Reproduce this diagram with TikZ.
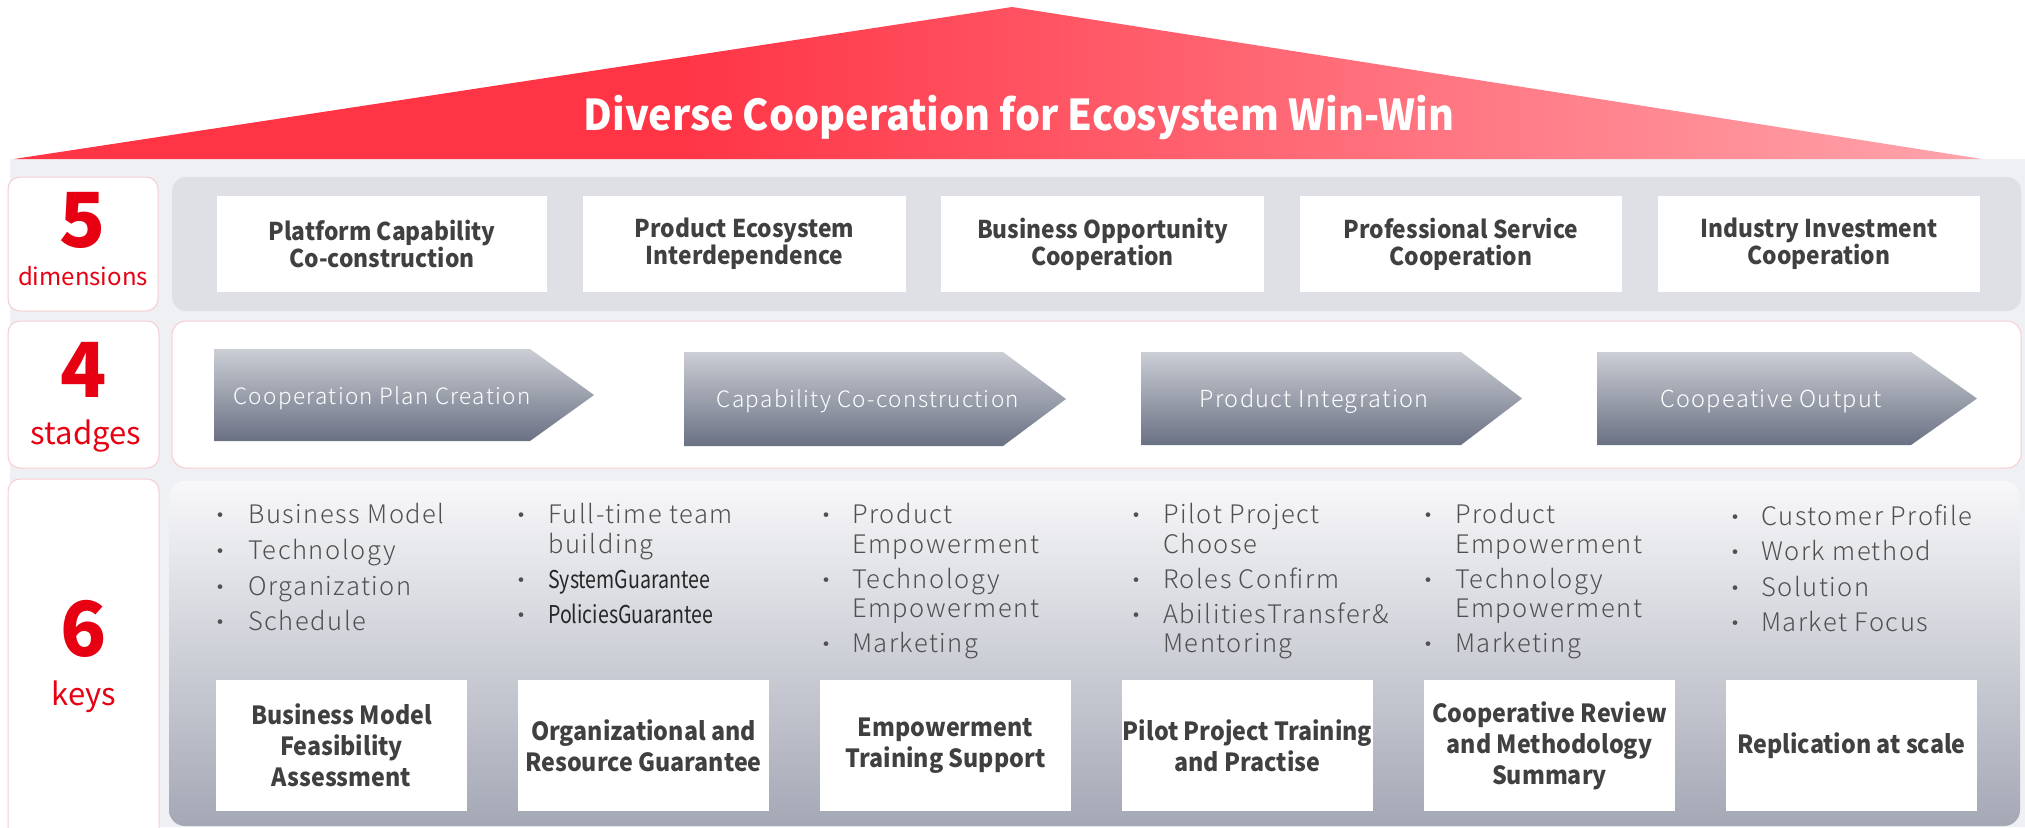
\documentclass[tikz,border=0pt]{standalone}
\usepackage{fontspec}
\newfontfamily\nsc{Noto Sans CJK SC}
\newfontfamily\nscb{Noto Sans CJK SC}[FakeStretch=0.93]
\newfontfamily\nscn{Noto Sans CJK SC}[FakeStretch=0.8]
\IfFontExistsTF{Noto Sans CJK SC Light}{%
  \newfontfamily\nscl{Noto Sans CJK SC Light}[LetterSpace=6]}{%
  \newfontfamily\nscl{Noto Sans CJK SC}[LetterSpace=6]}
\definecolor{redn}{HTML}{E60012}
\definecolor{txt}{HTML}{404040}
\definecolor{bul}{HTML}{505050}
\definecolor{bgframe}{HTML}{EEF0F3}
\definecolor{panelg}{HTML}{DFE0E5}
\definecolor{pinkb}{HTML}{F7CDD1}
\definecolor{chevt}{HTML}{CBCED5}
\definecolor{chevb}{HTML}{6A7183}
\definecolor{ptop}{HTML}{F8F8FA}
\definecolor{pbot}{HTML}{A4A8B5}
\definecolor{roofa}{HTML}{FF3546}
\definecolor{roofb}{HTML}{FFF4F5}
\pgfdeclarehorizontalshading{roofsh}{100bp}{color(0bp)=(roofa); color(42bp)=(roofa); color(72bp)=(roofa!50!white); color(100bp)=(roofb)}
\begin{document}
\begin{tikzpicture}[x=1pt,y=-1pt,
  lblbox/.style={draw=pinkb, fill=white, rounded corners=12pt, line width=1pt},
  dimbox/.style={fill=white, inner sep=0pt, minimum height=96pt, text=txt, align=center,
     font=\nscb\bfseries\fontsize{24.5}{27}\selectfont},
  keybox/.style={fill=white, inner sep=0pt, minimum width=251pt, minimum height=131pt, text=txt, align=center,
     font=\nscb\bfseries\fontsize{25}{31}\selectfont},
  bignum/.style={anchor=base, text=redn, font=\nsc\bfseries\fontsize{76}{76}\selectfont},
  numlbl/.style={anchor=base, text=redn, font=\nsc\fontsize{31}{31}\selectfont},
  chevtxt/.style={anchor=base, text=white, font=\nscl\fontsize{22.5}{22.5}\selectfont},
  bdot/.style={anchor=base, text=bul, font=\nsc\fontsize{22}{22}\selectfont},
  btxt/.style={anchor=base west, text=bul, inner sep=0pt, font=\nscl\fontsize{25.5}{25.5}\selectfont},
  ntxt/.style={anchor=base west, text=black!85, inner sep=0pt, font=\nscn\fontsize{24.5}{24.5}\selectfont},
  chev/.style={top color=chevt, bottom color=chevb}
]
\useasboundingbox (0,0) rectangle (2025,827);
% background frame and roof
\fill[bgframe] (10,159) rectangle (2025,827);
\shade[shading=roofsh] (14,159) -- (1012,7) -- (1982,159) -- cycle;
\node[anchor=base, text=white, font=\nscb\bfseries\fontsize{42.5}{42.5}\selectfont] (title) at (1019,130) {Diverse Cooperation for Ecosystem Win-Win};

% row 1: 5 dimensions
\draw[lblbox] (8,177) rectangle (158,311);
\fill[panelg, rounded corners=14pt] (172,177) rectangle (2021,311);
\node[bignum] (n5) at (83,247) {5};
\node[numlbl, font=\nsc\fontsize{24}{24}\selectfont] (l5) at (83,285) {dimensions};
\node[dimbox, minimum width=330pt] (d1) at (382,244) {Platform Capability\\Co-construction};
\node[dimbox, minimum width=323pt] (d2) at (744.5,244) {Product Ecosystem\\Interdependence};
\node[dimbox, minimum width=323pt] (d3) at (1102.5,244) {Business Opportunity\\Cooperation};
\node[dimbox, minimum width=322pt] (d4) at (1461,244) {Professional Service\\Cooperation};
\node[dimbox, minimum width=322pt] (d5) at (1819,244) {Industry Investment\\Cooperation};

% row 2: 4 stages
\draw[lblbox] (8,321) rectangle (159,468);
\draw[pinkb, fill=white, rounded corners=14pt, line width=1pt] (172,321) rectangle (2021,468);
\node[bignum] (n4) at (84,397) {4};
\node[numlbl] (l4) at (86,444) {stadges};
\shade[chev] (214,349) -- (530,349) -- (594,395) -- (530,441) -- (214,441) -- cycle;
\shade[chev] (684,352) -- (1003,352) -- (1066,399) -- (1003,446) -- (684,446) -- cycle;
\shade[chev] (1141,352) -- (1461,352) -- (1522,398.5) -- (1461,445) -- (1141,445) -- cycle;
\shade[chev] (1597,352) -- (1911,352) -- (1977,398.5) -- (1911,445) -- (1597,445) -- cycle;
\node[chevtxt] (s1) at (382,404) {Cooperation Plan Creation};
\node[chevtxt] (s2) at (868,407) {Capability Co-construction};
\node[chevtxt, font=\nscl\fontsize{23.5}{23.5}\selectfont] (s3) at (1314,407) {Product Integration};
\node[chevtxt, font=\nscl\fontsize{23.5}{23.5}\selectfont] (s4) at (1771,407) {Coopeative Output};

% row 3: 6 keys
\draw[lblbox] (8,479) rectangle (159,845);
\shade[top color=ptop, bottom color=pbot, rounded corners=16pt] (169,481) rectangle (2020,826);
\node[bignum] (n6) at (84,656) {6};
\node[numlbl] (l6) at (84,705) {keys};

% column 1
\node[bdot] (c1d1) at (220,523) {•};
\node[btxt] (c1t1) at (248,523) {Business Model};
\node[bdot] (c1d2) at (220,559) {•};
\node[btxt] (c1t2) at (248,559) {Technology};
\node[bdot] (c1d3) at (220,595) {•};
\node[btxt] (c1t3) at (248,595) {Organization};
\node[bdot] (c1d4) at (220,630) {•};
\node[btxt] (c1t4) at (248,630) {Schedule};
% column 2
\node[bdot] (c2d1) at (521,523) {•};
\node[btxt] (c2t1) at (548,523) {Full-time team};
\node[btxt] (c2t1b) at (548,553) {building};
\node[bdot] (c2d2) at (521,588) {•};
\node[ntxt] (c2t2) at (548,588) {SystemGuarantee};
\node[bdot] (c2d3) at (521,623) {•};
\node[ntxt] (c2t3) at (548,623) {PoliciesGuarantee};
% column 3
\node[bdot] (c3d1) at (826,523) {•};
\node[btxt] (c3t1) at (852,523) {Product};
\node[btxt] (c3t1b) at (852,553) {Empowerment};
\node[bdot] (c3d2) at (826,588) {•};
\node[btxt] (c3t2) at (852,588) {Technology};
\node[btxt] (c3t2b) at (852,617) {Empowerment};
\node[bdot] (c3d3) at (826,652) {•};
\node[btxt] (c3t3) at (852,652) {Marketing};
% column 4
\node[bdot] (c4d1) at (1136,523) {•};
\node[btxt] (c4t1) at (1163,523) {Pilot Project};
\node[btxt] (c4t1b) at (1163,553) {Choose};
\node[bdot] (c4d2) at (1136,588) {•};
\node[btxt] (c4t2) at (1163,588) {Roles Confirm};
\node[bdot] (c4d3) at (1136,623) {•};
\node[btxt] (c4t3) at (1163,623) {AbilitiesTransfer\&};
\node[btxt] (c4t3b) at (1163,652) {Mentoring};
% column 5
\node[bdot] (c5d1) at (1428,523) {•};
\node[btxt] (c5t1) at (1455,523) {Product};
\node[btxt] (c5t1b) at (1455,553) {Empowerment};
\node[bdot] (c5d2) at (1428,588) {•};
\node[btxt] (c5t2) at (1455,588) {Technology};
\node[btxt] (c5t2b) at (1455,617) {Empowerment};
\node[bdot] (c5d3) at (1428,652) {•};
\node[btxt] (c5t3) at (1455,652) {Marketing};
% column 6
\node[bdot] (c6d1) at (1735,525) {•};
\node[btxt] (c6t1) at (1761,525) {Customer Profile};
\node[bdot] (c6d2) at (1735,560) {•};
\node[btxt] (c6t2) at (1761,560) {Work method};
\node[bdot] (c6d3) at (1735,596) {•};
\node[btxt] (c6t3) at (1761,596) {Solution};
\node[bdot] (c6d4) at (1735,631) {•};
\node[btxt] (c6t4) at (1761,631) {Market Focus};

% key boxes
\node[keybox] (k1) at (341.5,745.5) {Business Model\\Feasibility\\Assessment};
\node[keybox] (k2) at (643.5,745.5) {Organizational and\\Resource Guarantee};
\node[keybox] (k3) at (945.5,745.5) {Empowerment\\Training Support};
\node[keybox] (k4) at (1247.5,745.5) {Pilot Project Training\\and Practise};
\node[keybox] (k5) at (1549.5,745.5) {Cooperative Review\\and Methodology\\Summary};
\node[keybox] (k6) at (1851.5,745.5) {Replication at scale};
\end{tikzpicture}
\end{document}
